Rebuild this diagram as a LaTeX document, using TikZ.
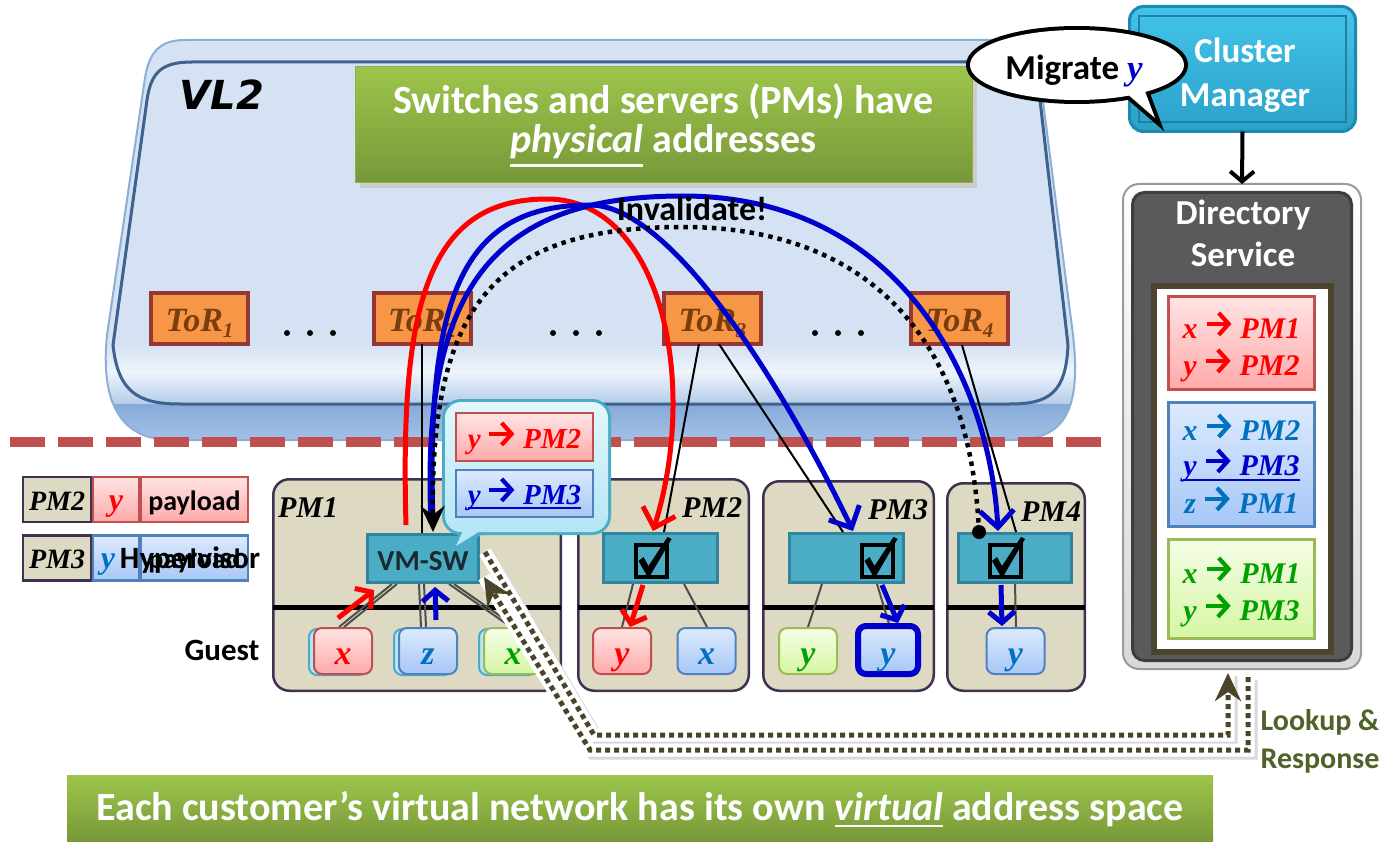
\documentclass[tikz,border=0pt]{standalone}
\usepackage{fontspec}
\setmainfont{Carlito}
\newfontfamily\vfont{Liberation Serif}
\newfontfamily\dvs{DejaVu Sans}[BoldFont={DejaVu Sans Bold},ItalicFont={DejaVu Sans Oblique},BoldItalicFont={DejaVu Sans Bold Oblique}]
\usetikzlibrary{arrows.meta,calc}

\newcommand{\fs}[2]{\fontsize{#1}{#2}\selectfont}
\newcommand{\vv}[1]{{\vfont\bfseries\itshape #1}}
% mapping arrow inside the address entries (takes the current text colour)
\newcommand{\marr}{\raisebox{1pt}{\begin{pgfpicture}\pgfsetlinewidth{4.2pt}\pgfsetarrowsend{Straight Barb[length=10pt,width=22pt]}\pgfpathmoveto{\pgfpointorigin}\pgfpathlineto{\pgfpoint{25pt}{0pt}}\pgfusepath{stroke}\end{pgfpicture}}}
\newcommand{\ent}[2]{\vv{#1}~\marr~\vv{#2}}
\newcommand{\ulx}[2][4pt]{\setbox0\hbox{#2}\rlap{\rule[-#1]{\wd0}{2.5pt}}\box0\relax}
\newcommand{\torlbl}[1]{\textcolor{torT}{\vfont\bfseries\itshape\fs{34}{34}ToR\raisebox{-6pt}{\fs{21}{21}#1}}}

\definecolor{trayA}{HTML}{D5E2F3}
\definecolor{trayHi}{HTML}{EEF4FB}
\definecolor{trayMid}{HTML}{B3CCEA}
\definecolor{trayLo}{HTML}{86AAD8}
\definecolor{trayLoB}{HTML}{A7C4EA}
\definecolor{trayOut}{HTML}{8DAED6}
\definecolor{trayEdge}{HTML}{3E618D}
\definecolor{grnA}{HTML}{9DC54B}
\definecolor{grnB}{HTML}{779839}
\definecolor{grnD}{HTML}{8EB146}
\definecolor{torF}{HTML}{F79646}
\definecolor{torD}{HTML}{953735}
\definecolor{torT}{HTML}{7A3D0C}
\definecolor{sepR}{HTML}{C0504D}
\definecolor{cmA}{HTML}{43C4EA}
\definecolor{cmB}{HTML}{2BA1C9}
\definecolor{cmD}{HTML}{1C8AB0}
\definecolor{cmIn}{HTML}{2380A3}
\definecolor{dirS}{HTML}{D8D8D8}
\definecolor{dirSD}{HTML}{9A9A9A}
\definecolor{dirG}{HTML}{5A5A5A}
\definecolor{dirGD}{HTML}{3D3D3D}
\definecolor{panD}{HTML}{4A4430}
\definecolor{eRA}{HTML}{FFE4E4}
\definecolor{eRB}{HTML}{FFA9A9}
\definecolor{eRD}{HTML}{C0504D}
\definecolor{eBA}{HTML}{DCEAFD}
\definecolor{eBB}{HTML}{A7C7F6}
\definecolor{eBD}{HTML}{4F81BD}
\definecolor{eGA}{HTML}{F4FDE6}
\definecolor{eGB}{HTML}{D5F6A2}
\definecolor{eGD}{HTML}{9BBB59}
\definecolor{gBack}{HTML}{BCE4F5}
\definecolor{pmF}{HTML}{DDD9C3}
\definecolor{pmD}{HTML}{3F3151}
\definecolor{hypF}{HTML}{4BACC6}
\definecolor{hypD}{HTML}{31849B}
\definecolor{callA}{HTML}{E2F7FD}
\definecolor{callB}{HTML}{B5E5F6}
\definecolor{callD}{HTML}{4BACC6}
\definecolor{redT}{HTML}{FF0000}
\definecolor{bluT}{HTML}{0070C0}
\definecolor{dblu}{HTML}{0000CC}
\definecolor{grnT}{HTML}{00A000}
\definecolor{oliv}{HTML}{4A452A}
\definecolor{olivT}{HTML}{4F6228}
\definecolor{lnk}{HTML}{4D4D4D}
\definecolor{vmT}{HTML}{1A2A30}

\begin{document}
\begin{tikzpicture}[x=1pt,y=-1pt]
\tikzset{
  every node/.style={inner sep=0pt, outer sep=0pt},
  t/.style={anchor=base},
  pmbox/.style={draw=pmD, fill=pmF, line width=2.5pt, rounded corners=16pt},
  hypbox/.style={draw=hypD, fill=hypF, line width=3pt},
  torbox/.style={draw=torD, fill=torF, line width=4pt, minimum width=97pt, minimum height=51pt},
  gsize/.style={minimum width=58pt, minimum height=46pt, rounded corners=8pt, line width=2pt},
  gR/.style={gsize, draw=eRD, top color=eRA, bottom color=eRB},
  gB/.style={gsize, draw=eBD, top color=eBA, bottom color=eBB},
  gG/.style={gsize, draw=eGD, top color=eGA, bottom color=eGB},
  gback/.style={gsize, draw=hypF, fill=gBack},
  glbl/.style={anchor=base, font=\fs{34}{34}},
  entR/.style={draw=eRD, top color=eRA, bottom color=eRB, line width=2.5pt},
  entB/.style={draw=eBD, top color=eBA, bottom color=eBB, line width=2.5pt},
  entG/.style={draw=eGD, top color=eGA, bottom color=eGB, line width=2.5pt},
  etxt/.style={anchor=base, font=\fs{30}{30}},
  pkt/.style={line width=2.5pt, minimum height=45pt},
  link/.style={draw=lnk, line width=2pt},
  torlink/.style={draw=black, line width=2pt},
  flowR/.style={draw=redT, line width=5pt, -{Straight Barb[length=17pt,width=34pt]}},
  flowB/.style={draw=dblu, line width=5pt, -{Straight Barb[length=17pt,width=34pt]}},
  hop/.style={line width=5pt, -{Straight Barb[length=11pt,width=26pt]}},
  inval/.style={draw=black, line width=4.5pt, dash pattern=on 4.5pt off 5pt, -{Stealth[length=26pt,width=24pt,inset=9pt]}},
  lookhalo/.style={draw=white, line width=13pt},
  lookshadow/.style={draw=black!15, line width=13pt},
  look/.style={draw=oliv, line width=5pt, dash pattern=on 5pt off 4pt},
  looktip/.style={-{Stealth[length=28pt,width=26pt,inset=9pt]}},
}
\useasboundingbox[fill=white] (0,0) rectangle (1389,842);

% ---------- VL2 tray ----------
\def\traypath{(185,40) -- (1000,40) .. controls (1028,40) and (1037,52) .. (1040,78) -- (1073,335) .. controls (1082,415) and (1062,440) .. (1012,440) -- (172,440) .. controls (122,440) and (100,405) .. (107,335) -- (145,78) .. controls (149,52) and (160,40) .. (185,40) -- cycle}
\fill[trayA] \traypath;
\begin{scope}
  \clip \traypath;
  \shade[top color=trayA, bottom color=trayHi] (0,345) rectangle (1389,372);
  \shade[top color=trayHi, bottom color=trayMid] (0,372) rectangle (1389,404);
  \shade[top color=trayLo, bottom color=trayLoB] (0,404) rectangle (1389,445);
\end{scope}
\draw[trayOut, line width=2pt] \traypath;
\draw[trayEdge, line width=3pt] (113,345) .. controls (118,392) and (138,404) .. (180,404) -- (1010,404) .. controls (1050,404) and (1066,392) .. (1068,345) -- (1040,100) .. controls (1037,72) and (1028,62) .. (1003,62) -- (192,62) .. controls (162,62) and (151,72) .. (147,100) -- cycle;
\node[t, font=\dvs\bfseries\itshape\fs{40}{40}] (vl2) at (222,110) {VL2};

% ---------- physical-address banner ----------
\fill[black!20] (360,72) rectangle (977,188);
\node[draw=grnD, line width=1pt, top color=grnA, bottom color=grnB, minimum width=617pt, minimum height=116pt] (phys) at (663.5,125) {};
\node[t, white, font=\fs{40}{40}\bfseries] at (663.5,114) {Switches and servers (PMs) have};
\node[t, white, font=\fs{40}{40}\bfseries] at (663.5,153) {\ulx[14pt]{\itshape physical} addresses};

% ---------- ToR switches ----------
\node[torbox] (tor1) at (199.5,318.5) {};
\node[torbox] (tor2) at (422,318.5) {};
\node[torbox] (tor3) at (712.5,318.5) {};
\node[torbox] (tor4) at (959.5,318.5) {};
\node[t] at (199.5,331) {\torlbl{1}};
\node[t] at (422,331) {\torlbl{2}};
\node[t] at (712.5,331) {\torlbl{3}};
\node[t] at (959.5,331) {\torlbl{4}};
\foreach \x in {287,310,333,553,576,599,815,838,861} \fill (\x,333) circle (3);

% ---------- separator ----------
\draw[sepR, line width=10pt, dash pattern=on 35pt off 13pt] (10,442) -- (1105,442);

% ---------- cluster manager ----------
\node[draw=cmD, line width=3pt, rounded corners=14pt, top color=cmA, bottom color=cmB, minimum width=226pt, minimum height=125pt] (cm) at (1242.5,69) {};
\draw[cmIn, line width=2pt] (1139,16) rectangle (1346,122);
\node[t, white, font=\fs{35}{35}\bfseries] at (1245,63) {Cluster};
\node[t, white, font=\fs{35}{35}\bfseries] at (1245,107) {Manager};

% speech bubble
\draw[line width=8pt] (1077,65) ellipse [x radius=107, y radius=35];
\draw[line width=8pt, line join=miter] (1125,92) -- (1155,118) -- (1143,86);
\fill[white] (1077,65) ellipse [x radius=107, y radius=35];
\fill[white] (1125,92) -- (1155,118) -- (1143,86) -- cycle;
\node[t, font=\fs{35}{35}\bfseries] (mig) at (1074,80) {Migrate \textcolor{dblu}{\vv{y}}};

% ---------- directory service ----------
\node[draw=dirSD, line width=2pt, rounded corners=16pt, top color=white, bottom color=dirS, minimum width=238pt, minimum height=485pt] (dirO) at (1242,426.5) {};
\node[draw=dirGD, fill=dirG, line width=3pt, rounded corners=12pt, minimum width=219pt, minimum height=468pt] (dir) at (1242,426.5) {};
\draw[-{Straight Barb[length=10pt,width=24pt]}, line width=4pt] (cm.south) -- (dirO.north);
\node[t, white, font=\fs{35}{35}\bfseries] at (1243,225) {Directory};
\node[t, white, font=\fs{35}{35}\bfseries] at (1243,267) {Service};
\node[draw=panD, fill=white, line width=6pt, minimum width=177pt, minimum height=366pt] (panel) at (1242.5,469) {};

\node[entR, minimum width=146pt, minimum height=93pt] (er) at (1241.5,343) {};
\node[etxt, redT] at (1241.5,338) {\ent{x}{PM1}};
\node[etxt, redT] at (1241.5,375) {\ent{y}{PM2}};
\node[entB, minimum width=146pt, minimum height=124pt] (eb) at (1241.5,464.5) {};
\node[etxt, bluT] at (1241.5,440) {\ent{x}{PM2}};
\node[etxt, dblu] at (1241.5,475) {\ulx[6pt]{\ent{y}{PM3}}};
\node[etxt, bluT] at (1241.5,513) {\ent{z}{PM1}};
\node[entG, minimum width=146pt, minimum height=99pt] (eg) at (1241.5,589) {};
\node[etxt, grnT] at (1241.5,583) {\ent{x}{PM1}};
\node[etxt, grnT] at (1241.5,620) {\ent{y}{PM3}};

% ---------- packet legend ----------
\node[pkt, draw=pmD, fill=pmF, minimum width=68pt] (p1a) at (57,499.5) {};
\node[pkt, draw=eRD, top color=eRA, bottom color=eRB, minimum width=46pt] (p1b) at (116,499.5) {};
\node[pkt, draw=eRD, top color=eRA, bottom color=eRB, minimum width=107pt] (p1c) at (194.5,499.5) {};
\node[t, font=\fs{28}{28}] at (57,510) {\vv{PM2}};
\node[t, font=\fs{32}{32}, redT] at (116,510) {\vv{y}};
\node[t, font=\fs{28}{28}\bfseries] at (194.5,510) {payload};
\node[pkt, draw=pmD, fill=pmF, minimum width=68pt] (p2a) at (57,558) {};
\node[pkt, draw=eBD, top color=eBA, bottom color=eBB, minimum width=46pt] (p2b) at (116,558) {};
\node[pkt, draw=eBD, top color=eBA, bottom color=eBB, minimum width=107pt] (p2c) at (194.5,558) {};
\node[t, font=\fs{28}{28}] at (57,568) {\vv{PM3}};
\node[t, font=\fs{32}{32}, bluT] at (108,568) {\vv{y}};
\node[t, font=\fs{28}{28}\bfseries] at (194.5,568) {payload};
\node[t, font=\fs{31}{31}\bfseries] (hv) at (190,568) {Hypervisor};
\node[t, font=\fs{31}{31}\bfseries] (guestlbl) at (222,660) {Guest};

% ---------- physical machines ----------
\node[pmbox, minimum width=287.5pt, minimum height=211.5pt] (pm1) at (417,585) {};
\node[pmbox, minimum width=170.5pt, minimum height=211.5pt] (pm2) at (663.5,585) {};
\node[pmbox, minimum width=170.5pt, minimum height=209.5pt] (pm3) at (848.5,586) {};
\node[pmbox, minimum width=137.5pt, minimum height=207.5pt] (pm4) at (1016,587) {};
\foreach \a/\b in {273/561, 578/749, 763/934, 947/1085} \draw[line width=5pt] (\a,607) -- (\b,607);
\node[t, anchor=base west, font=\fs{30}{30}] at (278,517) {\vv{PM1}};
\node[t, anchor=base east, font=\fs{30}{30}] at (742,517) {\vv{PM2}};
\node[t, anchor=base east, font=\fs{30}{30}] at (928,519) {\vv{PM3}};
\node[t, anchor=base east, font=\fs{30}{30}] at (1081,521) {\vv{PM4}};

% guest to hypervisor links
\draw[link] (397,584) -- (344,627);
\draw[link] (392,584) -- (339,627);
\draw[link] (419,584) -- (421,627);
\draw[link] (424,584) -- (426,627);
\draw[link] (449,584) -- (511,627);
\draw[link] (454,584) -- (516,627);
\draw[link] (633,584) -- (622,627);
\draw[link] (684,584) -- (707,627);
\draw[link] (822,584) -- (808,627);
\draw[link] (877,584) -- (890,627);
\draw[link] (1015,584) -- (1016,627);

% hypervisors
\node[hypbox, minimum width=111pt, minimum height=48pt] (vmsw) at (423,558.5) {};
\node[t, vmT, font=\fs{29}{29}\bfseries] at (423,570) {VM-SW};
\node[hypbox, minimum width=114pt, minimum height=49pt] (hyp2) at (660.5,558) {};
\node[hypbox, minimum width=114pt, minimum height=49pt] (hyp3) at (846.5,558) {};
\node[hypbox, minimum width=113pt, minimum height=49pt] (hyp4) at (1015,558) {};
\foreach \cx in {651.5, 877.5, 1005} {
  \draw[line width=4pt] (\cx-15.5,544.5) rectangle (\cx+15.5,576.5);
  \fill (\cx-13,561) -- (\cx-8,557) -- (\cx-3,566) -- (\cx+16,537) -- (\cx+20,539) -- (\cx-1,575) -- (\cx-5,575) -- cycle;
}

% guests
\node[gback] at (338,652) {};
\node[gR] (g1x) at (343,651) {};
\node[gback] at (423,652) {};
\node[gB] (g1z) at (428,651) {};
\node[gback] at (508,652) {};
\node[gG] (g1g) at (513,651) {};
\node[gR] (g2y) at (622,651) {};
\node[gB] (g2x) at (706.5,651) {};
\node[gG] (g3g) at (808,651) {};
\node[gB, draw=dblu, line width=6pt, minimum width=60pt, minimum height=48pt] (g3y) at (888,650) {};
\node[gB] (g4y) at (1015.5,651) {};
\node[glbl, redT] at (343,664) {\vv{x}};
\node[glbl, bluT] at (428,664) {\vv{z}};
\node[glbl, grnT] at (513,664) {\vv{x}};
\node[glbl, redT] at (622,664) {\vv{y}};
\node[glbl, bluT] at (706.5,664) {\vv{x}};
\node[glbl, grnT] at (808,664) {\vv{y}};
\node[glbl, bluT] at (888,664) {\vv{y}};
\node[glbl, bluT] at (1015.5,664) {\vv{y}};

% ToR uplinks into the servers
\draw[torlink] (tor2.south) -- (422,533);
\draw[torlink] (699,344) -- (664,532);
\draw[torlink] (719,344) -- (843,532);
\draw[torlink] (962,345) -- (1016,532);

% ---------- lookup & response to the directory ----------
\coordinate (lkA) at (485,552);
\coordinate (lkB) at (594,735);
\coordinate (lkC) at (1228,735);
\coordinate (lkD) at (1228,673);
\coordinate (rsA) at (1248,677);
\coordinate (rsB) at (1248,750);
\coordinate (rsC) at (590,750);
\coordinate (rsD) at (484,577);
\draw[lookshadow] ([shift={(3,3)}]lkA) -- ([shift={(3,3)}]lkB) -- ([shift={(3,3)}]lkC) -- ([shift={(3,3)}]lkD);
\draw[lookshadow] ([shift={(3,3)}]rsA) -- ([shift={(3,3)}]rsB) -- ([shift={(3,3)}]rsC) -- ([shift={(3,3)}]rsD);
\draw[lookhalo] (lkA) -- (lkB) -- (lkC) -- (lkD);
\draw[lookhalo] (rsA) -- (rsB) -- (rsC) -- (rsD);
\draw[look, looktip] (lkA) -- (lkB) -- (lkC) -- (lkD);
\draw[look, looktip] (rsA) -- (rsB) -- (rsC) -- (rsD);
\node[t, olivT, font=\fs{30}{30}\bfseries] at (1320,730) {Lookup \&};
\node[t, olivT, font=\fs{30}{30}\bfseries] at (1320,768) {Response};

% ---------- cached mappings at VM-SW ----------
\draw[callD, line width=6pt] (445,402) [rounded corners=16pt] rectangle (608,532);
\draw[callD, line width=6pt, line join=miter] (468,522) -- (456,546) -- (498,522);
\shade[top color=callA, bottom color=callB, rounded corners=16pt] (445,402) rectangle (608,532);
\fill[callB] (468,520) -- (456,546) -- (498,520) -- cycle;
\node[entR, minimum width=137pt, minimum height=48pt] (cr) at (524.5,437) {};
\node[etxt, font=\fs{29}{29}, redT] at (524.5,448) {\ent{y}{PM2}};
\node[entB, minimum width=137pt, minimum height=47pt] (cb) at (524.5,493.5) {};
\node[etxt, font=\fs{29}{29}, dblu] at (524.5,504) {\ulx[5pt]{\ent{y}{PM3}}};

% ---------- traffic and invalidation ----------
\coordinate (rS) at (406,525);
\coordinate (rE) at (653,531);
\coordinate (b1S) at (433,523);
\coordinate (b1E) at (853,531);
\coordinate (b2S) at (431,523);
\coordinate (b2E) at (998,531);
\coordinate (iS) at (979,532);
\coordinate (iE) at (433,532);
\draw[flowR] (rS) .. controls (400,310) and (425,199) .. (547,199) .. controls (660,199) and (700,380) .. (rE);
\draw[flowB] (b1S) .. controls (426,300) and (460,205) .. (590,205) .. controls (670,205) and (780,380) .. (b1E);
\draw[flowB] (b2S) .. controls (420,280) and (500,196) .. (683,196) .. controls (900,196) and (990,380) .. (b2E);
\draw[inval] (iS) .. controls (970,330) and (860,227) .. (683,227) .. controls (500,227) and (430,300) .. (iE);
\fill (iS) circle (7);
\node[t, font=\fs{34}{34}\bfseries] (inv) at (692,221) {Invalidate!};

% local hops inside the servers
\draw[hop, redT] (338,618) -- (374,590);
\draw[hop, dblu] (436,620) -- (435,587);
\draw[hop, redT] (643,585) -- (630,627);
\draw[hop, dblu] (882,585) -- (898,623);
\draw[hop, dblu] (1001,585) -- (1002,626);

% ---------- virtual-address banner ----------
\shade[top color=grnA, bottom color=grnB] (67,775) rectangle (1213,842);
\node[t, white, font=\fs{40}{40}\bfseries] (virt) at (640,820) {Each customer’s virtual network has its own \ulx[7pt]{\itshape virtual} address space};
\end{tikzpicture}
\end{document}
